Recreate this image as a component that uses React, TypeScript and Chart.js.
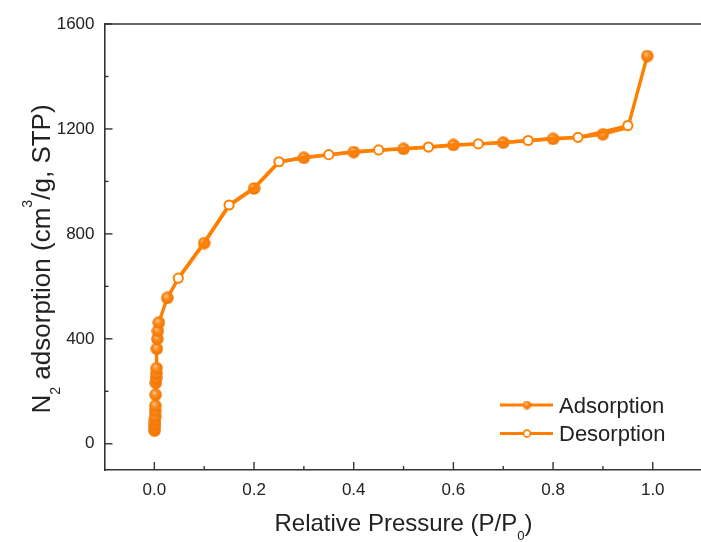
import React, { useEffect, useRef } from 'react';
import { Chart, registerables } from 'chart.js';

Chart.register(...registerables);

// ---- data ----
const adsorptionP = [0.0005, 0.0007, 0.001, 0.0012, 0.0015, 0.0017, 0.002, 0.0025, 0.003, 0.0035, 0.004, 0.0045, 0.005, 0.006, 0.007, 0.009, 0.026, 0.048, 0.1, 0.15, 0.2, 0.25, 0.3, 0.35, 0.4, 0.45, 0.5, 0.55, 0.6, 0.65, 0.7, 0.75, 0.8, 0.85, 0.9, 0.95, 0.989];
const adsorptionV = [50, 62, 75, 90, 105, 125, 145, 187, 232, 250, 268, 288, 362, 400, 430, 462, 556, 629, 765, 908, 973, 1074, 1090, 1101, 1112, 1119, 1124, 1130, 1139, 1142, 1148, 1155, 1162, 1167, 1180, 1205, 1478];
// 1 = filled marker shown at this point
const adsorptionMarked = [1, 1, 1, 1, 1, 1, 1, 1, 1, 1, 1, 1, 1, 1, 1, 1, 1, 0, 1, 0, 1, 0, 1, 0, 1, 0, 1, 0, 1, 0, 1, 0, 1, 0, 1, 0, 1];

const desorptionP = [0.95, 0.9, 0.85, 0.8, 0.75, 0.7, 0.65, 0.6, 0.55, 0.5, 0.45, 0.4, 0.35, 0.3, 0.25, 0.2, 0.15, 0.1, 0.048];
const desorptionV = [1213, 1189, 1168, 1164, 1156, 1149, 1143, 1139, 1131, 1125, 1120, 1112, 1102, 1091, 1075, 975, 910, 767, 631];
// 1 = open marker shown at this point
const desorptionMarked = [1, 0, 1, 0, 1, 0, 1, 0, 1, 0, 1, 0, 1, 0, 1, 0, 1, 0, 1];

const xTickValues = [0, 0.2, 0.4, 0.6, 0.8, 1.0];
const xMinorValues = [0.1, 0.3, 0.5, 0.7, 0.9];
const yTickValues = [0, 400, 800, 1200, 1600];
const yMinorValues = [200, 600, 1000, 1400];
const seriesNames = ['Adsorption', 'Desorption'];

const ORANGE = '#FF7F00';
const AXIS = '#333333';
const TEXT = '#222222';
const FAMILY = '"Liberation Sans", Arial, Helvetica, sans-serif';

function makeSphere(d: number): HTMLCanvasElement {
  const c = document.createElement('canvas');
  c.width = d;
  c.height = d;
  const g = c.getContext('2d')!;
  const r = d / 2;
  const grad = g.createRadialGradient(r * 0.75, r * 0.65, r * 0.05, r, r, r);
  grad.addColorStop(0, '#FFC890');
  grad.addColorStop(0.4, '#FF8C1A');
  grad.addColorStop(1, '#EE7000');
  g.fillStyle = grad;
  g.beginPath();
  g.arc(r, r, r - 0.3, 0, Math.PI * 2);
  g.fill();
  return c;
}

type Seg = { t: string; mode?: 'sub' | 'sup' };

function richWidth(ctx: CanvasRenderingContext2D, segs: Seg[], size: number) {
  return segs.map((s) => {
    ctx.font = `${s.mode ? size * 0.55 : size}px ${FAMILY}`;
    return ctx.measureText(s.t).width;
  });
}

function drawRich(ctx: CanvasRenderingContext2D, segs: Seg[], cx: number, y: number, size: number) {
  const widths = richWidth(ctx, segs, size);
  const total = widths.reduce((a, b) => a + b, 0);
  let x = cx - total / 2;
  ctx.textAlign = 'left';
  ctx.textBaseline = 'alphabetic';
  segs.forEach((s, i) => {
    ctx.font = `${s.mode ? size * 0.55 : size}px ${FAMILY}`;
    const dy = s.mode === 'sub' ? size * 0.38 : s.mode === 'sup' ? -size * 0.68 : 0;
    ctx.fillText(s.t, x, y + dy);
    x += widths[i];
  });
}

const xTitle: Seg[] = [{ t: 'Relative Pressure (P/P' }, { t: '0', mode: 'sub' }, { t: ')' }];
const yTitle: Seg[] = [
  { t: 'N' },
  { t: '2', mode: 'sub' },
  { t: ' adsorption (cm' },
  { t: '3', mode: 'sup' },
  { t: '/g, STP)' },
];

export default function App() {
  const ref = useRef<HTMLCanvasElement>(null);

  useEffect(() => {
    const sphere = makeSphere(13);
    const legendSphere = makeSphere(9);

    const decor = {
      id: 'decor',
      beforeDatasetsDraw(chart: any) {
        const { ctx, chartArea: a, scales } = chart;
        const xs = scales.x;
        const ys = scales.y;
        ctx.save();
        ctx.strokeStyle = AXIS;
        ctx.lineWidth = 1.6;
        ctx.beginPath();
        ctx.moveTo(a.left, a.top);
        ctx.lineTo(a.right + 10, a.top);
        ctx.stroke();
        ctx.lineWidth = 1.4;
        const tick = (x1: number, y1: number, x2: number, y2: number) => {
          ctx.beginPath();
          ctx.moveTo(x1, y1);
          ctx.lineTo(x2, y2);
          ctx.stroke();
        };
        xTickValues.forEach((v) => {
          const px = xs.getPixelForValue(v);
          tick(px, a.bottom, px, a.bottom - 8);
        });
        xMinorValues.forEach((v) => {
          const px = xs.getPixelForValue(v);
          tick(px, a.bottom, px, a.bottom - 4);
        });
        yTickValues.forEach((v) => {
          const py = ys.getPixelForValue(v);
          tick(a.left, py, a.left + 8, py);
        });
        yMinorValues.forEach((v) => {
          const py = ys.getPixelForValue(v);
          tick(a.left, py, a.left + 4, py);
        });
        ctx.restore();
      },
      afterDraw(chart: any) {
        const { ctx, chartArea: a } = chart;
        ctx.save();
        ctx.fillStyle = TEXT;
        // axis titles
        drawRich(ctx, xTitle, (a.left + a.right) / 2, 531, 24);
        ctx.save();
        ctx.translate(50, 259);
        ctx.rotate(-Math.PI / 2);
        drawRich(ctx, yTitle, 0, 0, 26);
        ctx.restore();

        // legend
        const rows = [405, 433.5];
        rows.forEach((ly, i) => {
          ctx.strokeStyle = ORANGE;
          ctx.lineWidth = 3.2;
          ctx.beginPath();
          ctx.moveTo(500, ly);
          ctx.lineTo(553, ly);
          ctx.stroke();
          if (i === 0) {
            ctx.drawImage(legendSphere, 527 - 4.5, ly - 4.5);
          } else {
            ctx.fillStyle = '#ffffff';
            ctx.lineWidth = 1.6;
            ctx.beginPath();
            ctx.arc(527, ly, 3.4, 0, Math.PI * 2);
            ctx.fill();
            ctx.stroke();
          }
          ctx.fillStyle = TEXT;
          ctx.font = `22px ${FAMILY}`;
          ctx.textAlign = 'left';
          ctx.textBaseline = 'alphabetic';
          ctx.fillText(seriesNames[i], 559, ly + 7.5);
        });
        ctx.restore();
      },
    };

    const chart = new Chart(ref.current!, {
      type: 'line',
      data: {
        datasets: [
          {
            label: seriesNames[0],
            data: adsorptionP.map((p, i) => ({ x: p, y: adsorptionV[i] })),
            borderColor: ORANGE,
            borderWidth: 3.4,
            pointStyle: sphere as any,
            pointRadius: adsorptionMarked.map((m) => (m ? 6 : 0)),
            order: 2,
            fill: false,
            tension: 0,
          },
          {
            label: seriesNames[1],
            data: desorptionP.map((p, i) => ({ x: p, y: desorptionV[i] })),
            borderColor: ORANGE,
            borderWidth: 3.4,
            pointStyle: 'circle',
            pointRadius: desorptionMarked.map((m) => (m ? 4.6 : 0)),
            pointBorderWidth: 2,
            pointBorderColor: ORANGE,
            pointBackgroundColor: '#ffffff',
            order: 1,
            fill: false,
            tension: 0,
          },
        ],
      },
      options: {
        animation: false,
        responsive: false,
        devicePixelRatio: 1,
        layout: { padding: { top: 24, right: 7, left: 0, bottom: 0 } },
        plugins: { legend: { display: false }, tooltip: { enabled: false } },
        scales: {
          x: {
            type: 'linear',
            min: -0.1,
            max: 1.1,
            grid: { display: false, drawTicks: false },
            border: { display: true, color: AXIS, width: 1.6 },
            afterBuildTicks: (s: any) => {
              s.ticks = xTickValues.map((v) => ({ value: v }));
            },
            afterFit: (s: any) => {
              s.height = 72;
            },
            ticks: {
              autoSkip: false,
              maxRotation: 0,
              padding: 10,
              color: TEXT,
              font: { family: FAMILY, size: 17 },
              callback: (v: any) => Number(v).toFixed(1),
            },
          },
          y: {
            type: 'linear',
            min: -100,
            max: 1600,
            grid: { display: false, drawTicks: false },
            border: { display: true, color: AXIS, width: 1.6 },
            afterBuildTicks: (s: any) => {
              s.ticks = yTickValues.map((v) => ({ value: v }));
            },
            afterFit: (s: any) => {
              s.width = 104.5;
            },
            ticks: {
              autoSkip: false,
              padding: 10,
              color: TEXT,
              font: { family: FAMILY, size: 17 },
              callback: (v: any) => String(v),
            },
          },
        },
      },
      plugins: [decor],
    });
    return () => chart.destroy();
  }, []);

  return (
    <div
      style={{
        position: 'fixed',
        left: 0,
        top: 0,
        width: 701,
        height: 542,
        overflow: 'hidden',
        background: '#ffffff',
      }}
    >
      <canvas ref={ref} width={712} height={542} style={{ display: 'block', width: 712, height: 542 }} />
    </div>
  );
}
